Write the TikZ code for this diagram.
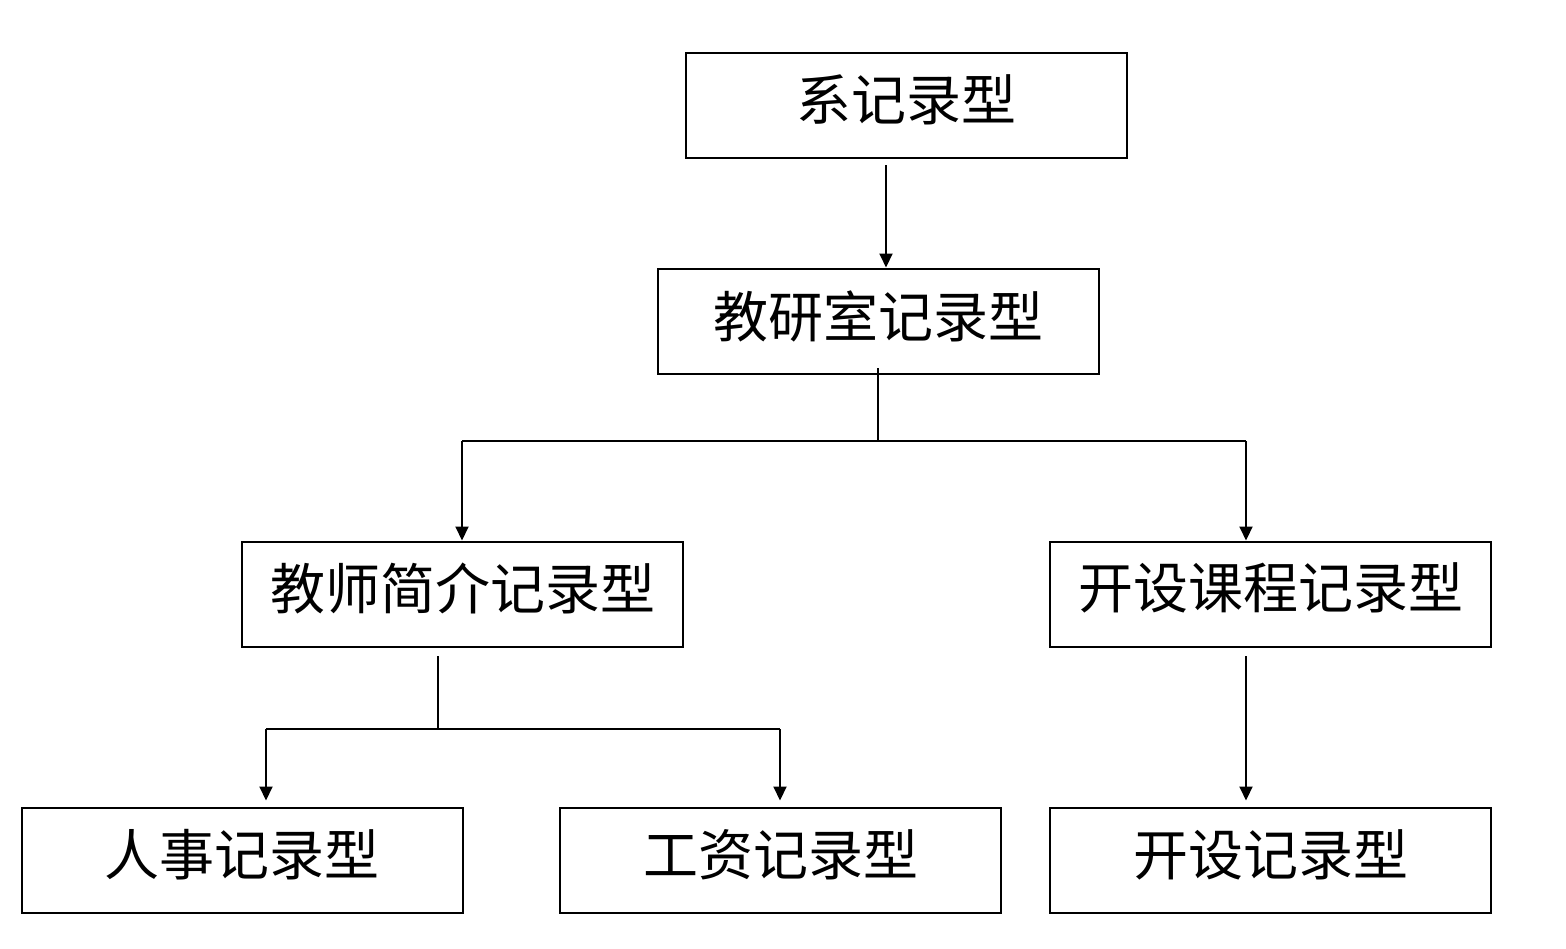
\documentclass[tikz,border=0pt]{standalone}
\usepackage{fontspec}
\setmainfont{Noto Sans CJK SC}
\usetikzlibrary{arrows.meta}
\begin{document}
\begin{tikzpicture}[x=1pt,y=-1pt,
  box/.style={draw,line width=2pt,minimum width=441pt,minimum height=105pt,inner sep=0pt,
    font=\fontsize{55}{60}\selectfont},
  conn/.style={line width=2pt},
  arr/.style={line width=2pt,-{Triangle[width=13pt,length=14pt]}}]
\useasboundingbox[fill=white] (0,0) rectangle (1566,948);
\node[box] (b1) at (906.5,105.5) {\raisebox{16pt}{系记录型}};
\node[box] (b2) at (878.5,321) {\raisebox{14pt}{教研室记录型}};
\node[box] (b3) at (462.5,594) {\raisebox{16pt}{教师简介记录型}};
\node[box] (b4) at (1270.5,594) {\raisebox{16pt}{开设课程记录型}};
\node[box] (b5) at (242,860) {\raisebox{15pt}{人事记录型}};
\node[box] (b6) at (780.5,860) {\raisebox{15pt}{工资记录型}};
\node[box] (b7) at (1270.5,860) {\raisebox{15pt}{开设记录型}};
% level 1 -> 2
\coordinate (c1) at (886,165);
\draw[arr] (c1) -- (c1 |- b2.north);
% level 2 -> 3
\coordinate (c2) at (878,368);
\coordinate (h2) at (878,441);
\coordinate (l2) at (462,441);
\coordinate (r2) at (1246,441);
\draw[conn] (c2) -- (h2);
\draw[conn] (l2) -- (r2);
\draw[arr] (l2) -- (l2 |- b3.north);
\draw[arr] (r2) -- (r2 |- b4.north);
% level 3 -> 4 (left)
\coordinate (c3) at (438,656);
\coordinate (h3) at (438,729);
\coordinate (l3) at (266,729);
\coordinate (r3) at (780,729);
\draw[conn] (c3) -- (h3);
\draw[conn] (l3) -- (r3);
\draw[arr] (l3) -- ([yshift=6pt]l3 |- b5.north);
\draw[arr] (r3) -- ([yshift=6pt]r3 |- b6.north);
% level 3 -> 4 (right)
\coordinate (c4) at (1246,656);
\draw[arr] (c4) -- ([yshift=6pt]c4 |- b7.north);
\end{tikzpicture}
\end{document}
